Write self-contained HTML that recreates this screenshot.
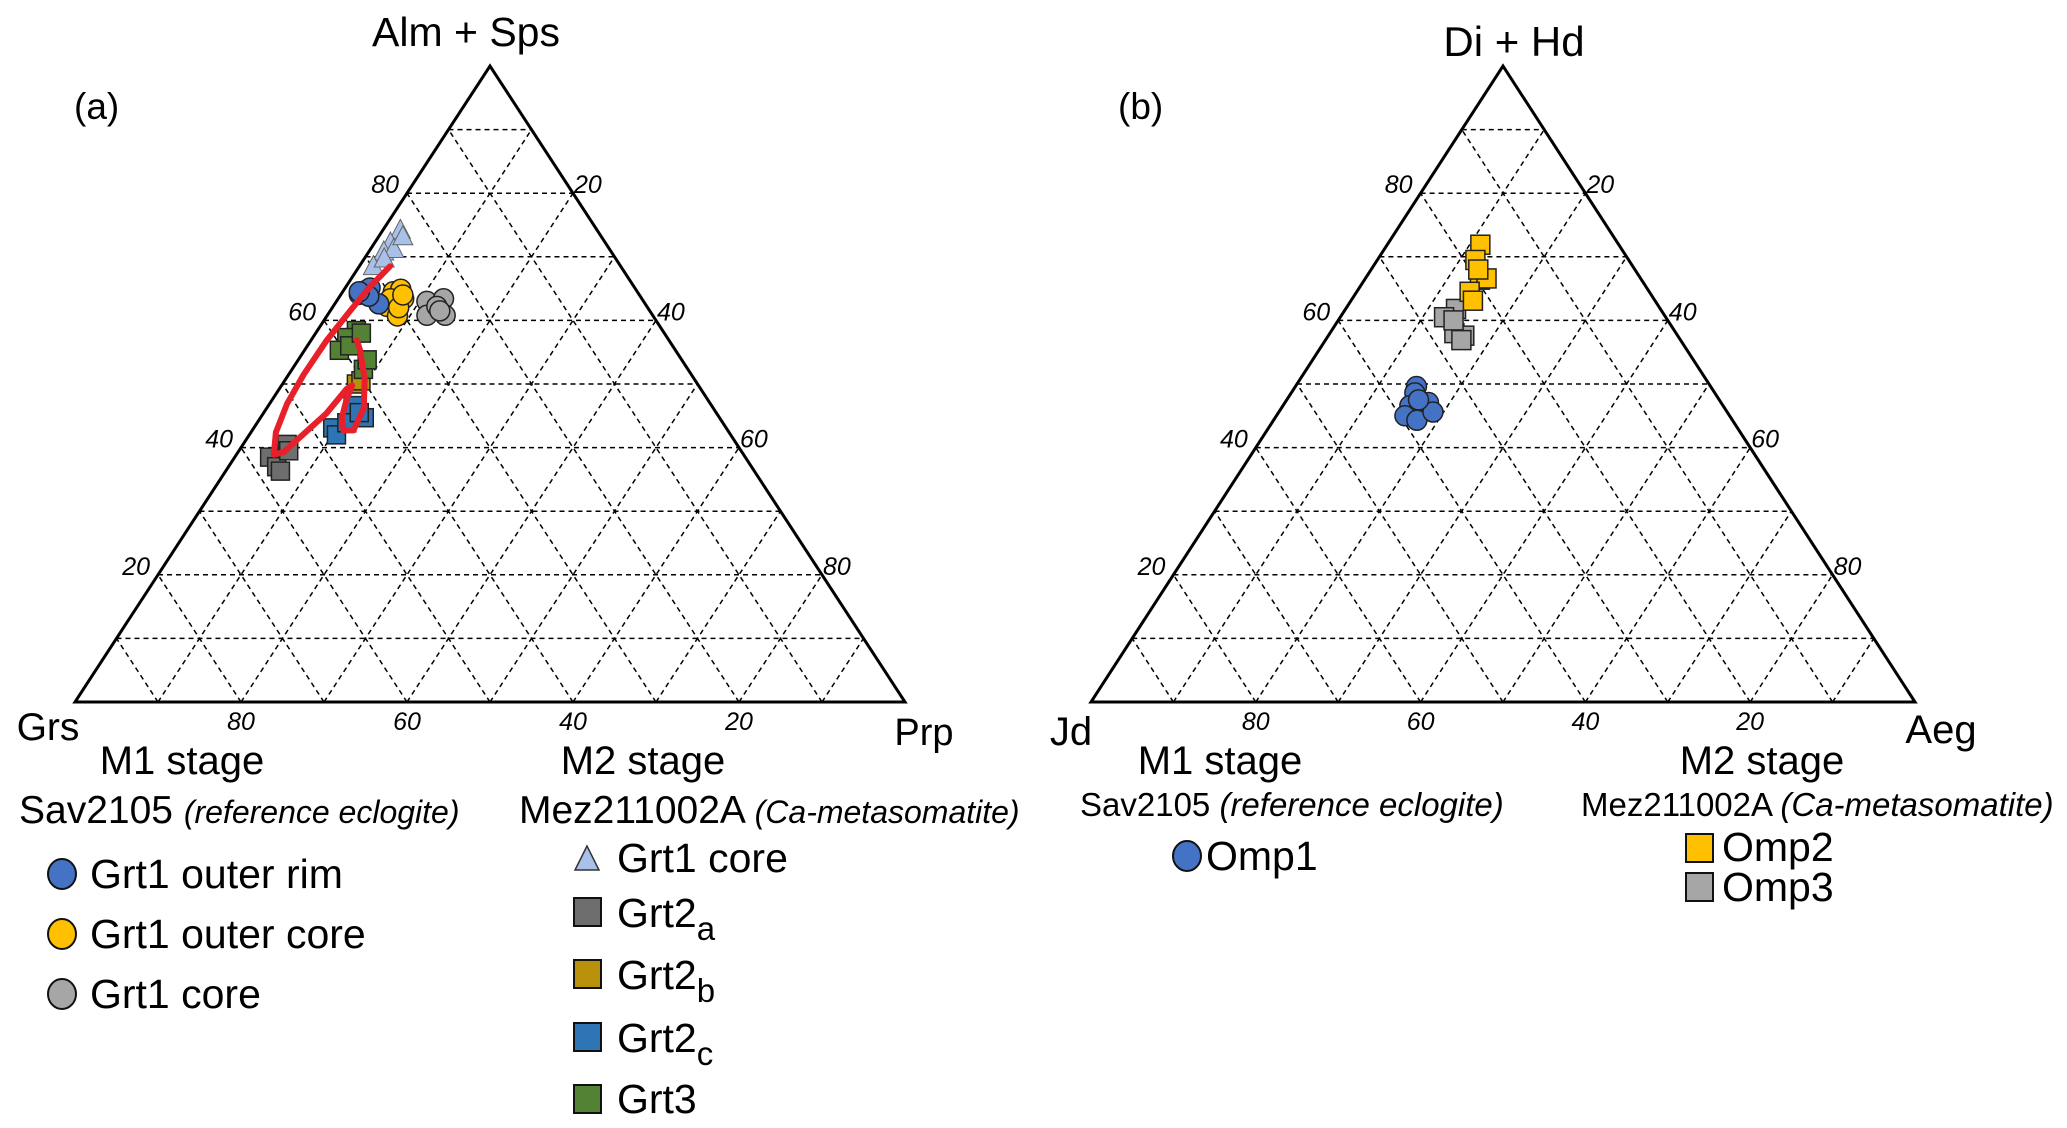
<!DOCTYPE html>
<html><head><meta charset="utf-8"><style>
html,body{margin:0;padding:0;background:#fff;}
svg{display:block;font-family:"Liberation Sans",Arial,sans-serif;}
</style></head><body>
<svg id="fig" width="2067" height="1128" viewBox="0 0 2067 1128">
<g id="pa"></g>
<g id="pb"></g>
<g id="lg">
 <text x="74" y="119" font-size="37">(a)</text>
 <text x="1118" y="119" font-size="37">(b)</text>
 <text x="466" y="46" font-size="41" text-anchor="middle">Alm + Sps</text>
 <text x="1514" y="56" font-size="42" text-anchor="middle">Di + Hd</text>
 <text x="48" y="740" font-size="39" text-anchor="middle">Grs</text>
 <text x="924" y="745" font-size="38" text-anchor="middle">Prp</text>
 <text x="1071" y="745" font-size="40" text-anchor="middle">Jd</text>
 <text x="1941" y="743" font-size="40" text-anchor="middle">Aeg</text>

 <text x="182" y="774" font-size="40" text-anchor="middle">M1 stage</text>
 <text x="19" y="823" font-size="39">Sav2105 <tspan font-style="italic" font-size="32">(reference eclogite)</tspan></text>
 <text x="643" y="774" font-size="40" text-anchor="middle">M2 stage</text>
 <text x="519" y="823" font-size="39">Mez211002A <tspan font-style="italic" font-size="32">(Ca-metasomatite)</tspan></text>

 <g><ellipse cx="62" cy="874" rx="14" ry="15" fill="#4472c4" stroke="#111" stroke-width="2"/><text x="90" y="888" font-size="41">Grt1 outer rim</text></g>
 <g><ellipse cx="62" cy="934" rx="14" ry="15" fill="#ffc000" stroke="#111" stroke-width="2"/><text x="90" y="948" font-size="41">Grt1 outer core</text></g>
 <g><ellipse cx="62" cy="994" rx="14" ry="15" fill="#a6a6a6" stroke="#111" stroke-width="2"/><text x="90" y="1008" font-size="41">Grt1 core</text></g>

 <g><polygon points="587,846 575,870 599,870" fill="#a9c0e8" stroke="#333" stroke-width="1.5"/><text x="617" y="872" font-size="41">Grt1 core</text></g>
 <g><rect x="574" y="898" width="27" height="28" fill="#6e6e6e" stroke="#111" stroke-width="2"/><text x="617" y="927" font-size="41">Grt2<tspan font-size="33" dy="13">a</tspan></text></g>
 <g><rect x="574" y="960" width="27" height="28" fill="#b8900a" stroke="#111" stroke-width="2"/><text x="617" y="989" font-size="41">Grt2<tspan font-size="33" dy="13">b</tspan></text></g>
 <g><rect x="574" y="1023" width="27" height="28" fill="#2e75b6" stroke="#111" stroke-width="2"/><text x="617" y="1052" font-size="41">Grt2<tspan font-size="33" dy="13">c</tspan></text></g>
 <g><rect x="574" y="1085" width="27" height="28" fill="#548235" stroke="#111" stroke-width="2"/><text x="617" y="1113" font-size="41">Grt3</text></g>

 <text x="1220" y="774" font-size="40" text-anchor="middle">M1 stage</text>
 <text x="1080" y="816" font-size="33">Sav2105 <tspan font-style="italic">(reference eclogite)</tspan></text>
 <text x="1762" y="774" font-size="40" text-anchor="middle">M2 stage</text>
 <text x="1581" y="816" font-size="33">Mez211002A <tspan font-style="italic">(Ca-metasomatite)</tspan></text>
 <g><ellipse cx="1187" cy="856" rx="14" ry="15" fill="#4472c4" stroke="#111" stroke-width="2"/><text x="1206" y="870" font-size="41">Omp1</text></g>
 <g><rect x="1686" y="834" width="27" height="28" fill="#ffc000" stroke="#111" stroke-width="2"/><text x="1722" y="861" font-size="41">Omp2</text></g>
 <g><rect x="1686" y="873" width="27" height="28" fill="#a6a6a6" stroke="#111" stroke-width="2"/><text x="1722" y="901" font-size="41">Omp3</text></g>
</g>
</svg>
<script>
// Ternary data: [top fraction, right fraction]
const grt1CoreM2 = [[0.74,0.022],[0.72,0.02],[0.706,0.019],[0.71,0.029],[0.683,0.018],[0.73,0.03],[0.695,0.025]];
const grt1OuterRim = [[0.647,0.027],[0.651,0.03],[0.626,0.053],[0.641,0.022],[0.638,0.035],[0.645,0.02]];
const grt1OuterCore = [[0.645,0.061],[0.634,0.079],[0.622,0.065],[0.607,0.085],[0.649,0.068],[0.634,0.063],[0.62,0.08],[0.64,0.075]];
const grt1CoreM1 = [[0.63,0.109],[0.634,0.127],[0.608,0.12],[0.608,0.142],[0.622,0.125],[0.615,0.132]];
const grt3 = [[0.584,0.047],[0.573,0.041],[0.553,0.042],[0.56,0.051],[0.523,0.086],[0.538,0.083],[0.58,0.055]];
const grt2b = [[0.5,0.089],[0.505,0.092]];
const grt2c = [[0.466,0.102],[0.447,0.125],[0.431,0.095],[0.42,0.105],[0.439,0.108],[0.455,0.115]];
const grt2a = [[0.385,0.042],[0.37,0.058],[0.405,0.053],[0.363,0.066],[0.395,0.06]];
const ptPath = [[0.685,0.037],[0.653,0.029],[0.615,0.024],[0.569,0.019],[0.515,0.018],[0.469,0.021],[0.424,0.03],[0.389,0.045],[0.393,0.055],[0.416,0.063],[0.454,0.076],[0.492,0.081],[0.498,0.085],[0.477,0.089],[0.447,0.098],[0.427,0.11],[0.427,0.122],[0.462,0.117],[0.508,0.095],[0.553,0.067],[0.569,0.055]];
const omp2 = [[0.719,0.113],[0.695,0.119],[0.664,0.14],[0.666,0.147],[0.645,0.137],[0.631,0.148],[0.68,0.13]];
const omp3 = [[0.618,0.134],[0.605,0.126],[0.58,0.151],[0.576,0.165],[0.569,0.165],[0.6,0.14]];
const omp1 = [[0.496,0.147],[0.486,0.15],[0.466,0.154],[0.471,0.174],[0.45,0.156],[0.443,0.174],[0.456,0.187],[0.475,0.16]];
const gridLevels = [0.1,0.2,0.3,0.4,0.5,0.6,0.7,0.8,0.9];
const edgeTicks = [0.2,0.4,0.6,0.8];
const NS='http://www.w3.org/2000/svg';
function mk(tag,attrs,parent){const e=document.createElementNS(NS,tag);for(const k in attrs)e.setAttribute(k,attrs[k]);parent.appendChild(e);return e;}
function axis(L,R,B,A){const W=R-L,H=B-A;return (t,r)=>[L+r*W+t*W/2,B-t*H];}
function drawFrame(g,P){
  gridLevels.forEach(v=>{
    let a=P(v,0),b=P(v,1-v);
    let l=mk('line',{x1:a[0],y1:a[1],x2:b[0],y2:b[1],stroke:'#000','stroke-width':1.5,'stroke-dasharray':'5,4'},g);
    
    
    a=P(0,v);b=P(1-v,v);
    l=mk('line',{x1:a[0],y1:a[1],x2:b[0],y2:b[1],stroke:'#000','stroke-width':1.5,'stroke-dasharray':'5,4'},g);
    
    
    a=P(0,1-v);b=P(1-v,0);
    l=mk('line',{x1:a[0],y1:a[1],x2:b[0],y2:b[1],stroke:'#000','stroke-width':1.5,'stroke-dasharray':'5,4'},g);
    
    
  });
  const p0=P(0,0),p1=P(0,1),p2=P(1,0);
  const tri=mk('polygon',{points:`${p0} ${p1} ${p2}`,fill:'none',stroke:'#000','stroke-width':3,'stroke-linejoin':'miter'},g);
  
  
  edgeTicks.forEach(v=>{
    let p=P(v,0);
    let t=mk('text',{x:p[0]-8,y:p[1],'font-size':25,'font-style':'italic','text-anchor':'end'},g);t.textContent=Math.round(v*100);
    
    
    p=P(v,1-v);
    t=mk('text',{x:p[0]+1,y:p[1],'font-size':25,'font-style':'italic'},g);t.textContent=Math.round((1-v)*100);
    
    
    p=P(0,v);
    t=mk('text',{x:p[0],y:p[1]+28,'font-size':25,'font-style':'italic','text-anchor':'middle'},g);t.textContent=Math.round((1-v)*100);
    
    
  });
}
function circles(g,P,data,fill,name){data.forEach(d=>{const p=P(d[0],d[1]);const c=mk('circle',{cx:p[0],cy:p[1],r:10,fill:fill,stroke:'#222','stroke-width':1.5},g);
  
  });}
function squares(g,P,data,fill,name,s){data.forEach(d=>{const p=P(d[0],d[1]);const c=mk('rect',{x:p[0]-s/2,y:p[1]-s/2,width:s,height:s,fill:fill,stroke:'#222','stroke-width':1.5},g);
  
  });}
function tris(g,P,data,fill,name){data.forEach(d=>{const p=P(d[0],d[1]);const c=mk('polygon',{points:`${p[0]},${p[1]-12} ${p[0]-10},${p[1]+7} ${p[0]+10},${p[1]+7}`,fill:fill,stroke:'#666','stroke-width':1},g);
  
  });}
const PA=axis(75,905,702,66), PB=axis(1091,1915,702,66);
const ga=document.getElementById('pa'), gb=document.getElementById('pb');
drawFrame(ga,PA); drawFrame(gb,PB);
tris(ga,PA,grt1CoreM2,'#a9c0e8','point-grt1-core-m2');
squares(ga,PA,grt2a,'#6e6e6e','point-grt2a',18);
squares(ga,PA,grt2c,'#2e75b6','point-grt2c',18);
squares(ga,PA,grt2b,'#b8900a','point-grt2b',18);
squares(ga,PA,grt3,'#548235','point-grt3',18);
circles(ga,PA,grt1CoreM1,'#a6a6a6','point-grt1-core-m1');
circles(ga,PA,grt1OuterCore,'#ffc000','point-grt1-outer-core');
circles(ga,PA,grt1OuterRim,'#4472c4','point-grt1-outer-rim');
const pathD=ptPath.map((d,i)=>{const p=PA(d[0],d[1]);return (i?'L':'M')+p[0].toFixed(1)+','+p[1].toFixed(1);}).join(' ');
const rp=mk('path',{d:pathD,fill:'none',stroke:'#e8202a','stroke-width':6,'stroke-linejoin':'round','stroke-linecap':'round'},ga);


squares(gb,PB,omp3,'#a6a6a6','point-omp3',19);
squares(gb,PB,omp2,'#ffc000','point-omp2',19);
circles(gb,PB,omp1,'#4472c4','point-omp1');
</script>
</body></html>
